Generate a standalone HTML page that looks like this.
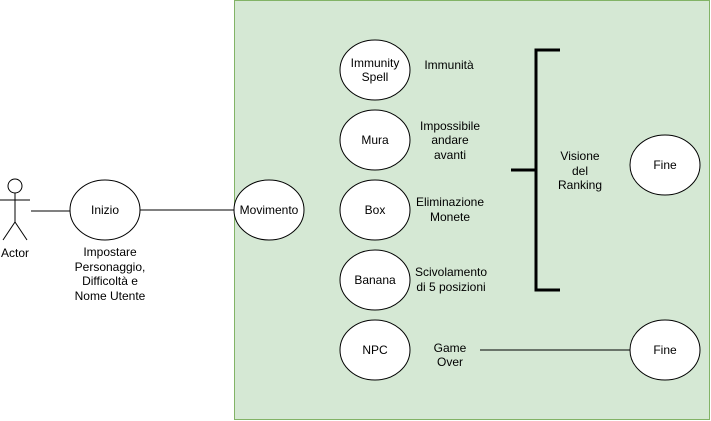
<!DOCTYPE html>
<html><head><meta charset="utf-8"><style>body{margin:0;background:#fff}svg{display:block}text{font-family:"Liberation Sans",Arial,sans-serif;font-size:12px;fill:#000}</style></head><body>
<svg width="711" height="421" viewBox="0 0 711 421">
<rect x="234.5" y="0.5" width="475" height="419" fill="#d5e8d4" stroke="#82b366"/>
<g stroke="#000" fill="none">
<circle cx="15" cy="186" r="7" fill="#fff"/>
<line x1="15" y1="193" x2="15" y2="222"/>
<line x1="0" y1="200" x2="30" y2="200"/>
<line x1="15" y1="222" x2="3" y2="240"/>
<line x1="15" y1="222" x2="27" y2="240"/>
<line x1="31" y1="211" x2="70" y2="211"/>
<line x1="140" y1="210" x2="234" y2="210"/>
<line x1="480" y1="350" x2="630" y2="350"/>
<path d="M560 50H536V290H560M511 170H536" stroke-width="3"/>
</g>
<g stroke="#000" fill="#fff">
<ellipse cx="105" cy="210" rx="35" ry="30"/>
<ellipse cx="269" cy="210" rx="35" ry="30"/>
<ellipse cx="375" cy="70" rx="35" ry="30"/>
<ellipse cx="375" cy="140" rx="35" ry="30"/>
<ellipse cx="375" cy="210" rx="35" ry="30"/>
<ellipse cx="375" cy="280" rx="35" ry="30"/>
<ellipse cx="375" cy="350" rx="35" ry="30"/>
<ellipse cx="665" cy="165" rx="35" ry="30"/>
<ellipse cx="665" cy="350" rx="35" ry="30"/>
</g>
<g text-anchor="middle">
<text x="15" y="257">Actor</text>
<text x="105" y="214">Inizio</text>
<text x="110" y="256">Impostare</text>
<text x="110" y="271">Personaggio,</text>
<text x="110" y="285">Difficoltà e</text>
<text x="110" y="300">Nome Utente</text>
<text x="269" y="214">Movimento</text>
<text x="375" y="67">Immunity</text>
<text x="375" y="81">Spell</text>
<text x="375" y="144">Mura</text>
<text x="375" y="214">Box</text>
<text x="375" y="284">Banana</text>
<text x="375" y="354">NPC</text>
<text x="449" y="69">Immunità</text>
<text x="450" y="130">Impossibile</text>
<text x="450" y="144">andare</text>
<text x="450" y="159">avanti</text>
<text x="450" y="206">Eliminazione</text>
<text x="450" y="221">Monete</text>
<text x="451" y="276">Scivolamento</text>
<text x="451" y="291">di 5 posizioni</text>
<text x="450" y="352">Game</text>
<text x="450" y="366">Over</text>
<text x="580" y="160">Visione</text>
<text x="580" y="175">del</text>
<text x="580" y="189">Ranking</text>
<text x="665" y="169">Fine</text>
<text x="665" y="354">Fine</text>
</g>
</svg>
</body></html>
